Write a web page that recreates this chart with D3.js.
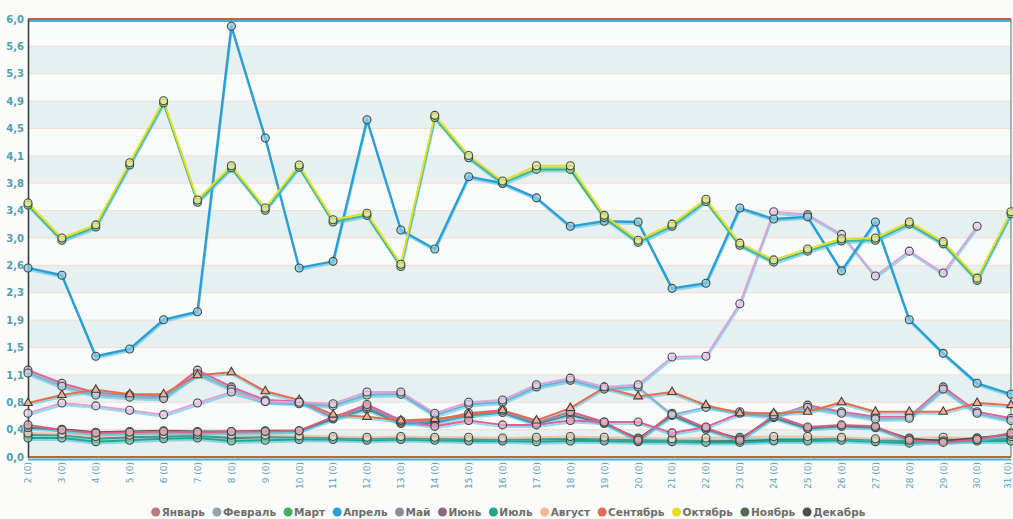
<!DOCTYPE html>
<html>
<head>
<meta charset="utf-8">
<script src="https://cdn.jsdelivr.net/npm/d3@7"></script>
<style>
  html, body { margin: 0; padding: 0; background: #fbfbfa; }
  svg { display: block; font-family: "DejaVu Sans", sans-serif; }
</style>
</head>
<body>
<script>
// Days of the month on the category axis
const dayLabels = ["2 (0)","3 (0)","4 (0)","5 (0)","6 (0)","7 (0)","8 (0)","9 (0)","10 (0)","11 (0)",
  "12 (0)","13 (0)","14 (0)","15 (0)","16 (0)","17 (0)","18 (0)","19 (0)","20 (0)","21 (0)",
  "22 (0)","23 (0)","24 (0)","25 (0)","26 (0)","27 (0)","28 (0)","29 (0)","30 (0)","31 (0)"];

// Value axis tick labels (0 … 6 in sixteen steps)
const yTickLabels = ["0,0","0,4","0,8","1,1","1,5","1,9","2,3","2,6","3,0","3,4","3,8","4,1","4,5","4,9","5,3","5,6","6,0"];

// Monthly series, one value per day
const january   = [0.44,0.37,0.33,0.34,0.35,0.34,0.35,0.35,0.36,0.55,0.69,0.48,0.50,0.60,0.64,0.47,0.62,0.48,0.23,0.60,0.40,0.23,0.57,0.41,0.44,0.42,0.23,0.20,0.24,0.33];
const february  = [1.15,0.97,0.85,0.82,0.80,1.14,0.93,0.76,0.73,0.70,0.85,0.86,0.57,0.72,0.75,0.96,1.05,0.93,0.96,0.58,0.68,0.62,0.58,0.68,0.60,0.52,0.53,0.93,0.60,0.50];
const march     = [3.45,2.97,3.15,4.00,4.85,3.49,3.96,3.38,3.97,3.22,3.31,2.61,4.65,4.10,3.75,3.94,3.94,3.28,2.94,3.16,3.50,2.90,2.67,2.82,2.96,2.97,3.19,2.92,2.42,3.33];
const april     = [2.59,2.49,1.38,1.48,1.88,1.99,5.90,4.37,2.59,2.68,4.62,3.11,2.85,3.84,3.75,3.55,3.16,3.23,3.22,2.31,2.38,3.41,3.26,3.29,2.55,3.22,1.88,1.42,1.01,0.86];
const may       = [0.60,0.74,0.70,0.64,0.58,0.74,0.89,0.76,0.75,0.73,0.89,0.89,0.60,0.75,0.78,0.99,1.08,0.96,0.99,1.37,1.38,2.10,3.36,3.32,3.05,2.48,2.82,2.52,3.16,null];
const june      = [1.19,1.01,0.88,0.85,0.83,1.19,0.96,0.78,0.76,0.54,0.72,0.50,0.42,0.50,0.44,0.44,0.50,0.48,0.48,0.33,0.41,0.60,0.55,0.71,0.62,0.55,0.55,0.96,0.62,0.53];
const july      = [0.26,0.26,0.21,0.23,0.25,0.26,0.22,0.23,0.24,0.24,0.23,0.24,0.23,0.22,0.22,0.21,0.22,0.22,0.21,0.21,0.20,0.20,0.22,0.22,0.23,0.21,0.19,0.22,0.22,0.22];
const august    = [0.33,0.32,0.28,0.30,0.31,0.31,0.30,0.30,0.29,0.28,0.27,0.28,0.27,0.27,0.26,0.27,0.28,0.27,0.26,0.25,0.26,0.27,0.28,0.28,0.27,0.25,0.26,0.27,0.26,0.28];
const september = [0.74,0.85,0.92,0.86,0.86,1.12,1.16,0.90,0.78,0.58,0.55,0.50,0.52,0.58,0.64,0.50,0.67,0.95,0.83,0.89,0.71,0.60,0.60,0.62,0.75,0.62,0.62,0.62,0.74,0.71];
const october   = [3.48,3.00,3.18,4.03,4.88,3.52,3.99,3.41,4.00,3.25,3.34,2.64,4.68,4.13,3.78,3.99,3.99,3.31,2.97,3.19,3.53,2.93,2.70,2.85,2.99,3.00,3.22,2.95,2.45,3.36];
const november  = [0.30,0.30,0.25,0.27,0.28,0.29,0.26,0.27,0.27,0.26,0.25,0.26,0.25,0.24,0.24,0.24,0.25,0.24,0.23,0.23,0.22,0.22,0.24,0.24,0.25,0.23,0.22,0.24,0.24,0.25];
const december  = [0.40,0.38,0.34,0.35,0.36,0.35,0.35,0.36,0.36,0.52,0.66,0.46,0.47,0.57,0.61,0.45,0.58,0.46,0.25,0.57,0.38,0.25,0.54,0.39,0.42,0.40,0.25,0.22,0.26,0.31];

const monthNames = ["Январь","Февраль","Март","Апрель","Май","Июнь","Июль","Август","Сентябрь","Октябрь","Ноябрь","Декабрь"];
const monthValues = [january,february,march,april,may,june,july,august,september,october,november,december];

// Styling per month
const monthColors = ["#d9607a","#8fb0c4","#3cb060","#2a9fd4","#dca2d6","#e0609a","#1fa88a","#f0c4a0","#ec6a48","#e6de26","#4e6a52","#4a5050"];
const legendColors = ["#b87a7a","#8ea4b4","#3cb060","#2a9fd4","#8a8a9a","#8a6a80","#1fa88a","#f4b898","#e06a58","#e6de26","#4e6a52","#4a5050"];
const markerShape = ["circle","circle","circle","circle","circle","circle","circle","circle","triangle","circle","circle","circle"];
const drawOrder = [10,6,7,11,0,5,1,8,4,3,2,9];

const W = 1013, H = 519;
const plotLeft = 28, plotRight = 1011, plotTop = 19, plotBottom = 457;

const svg = d3.select("body").append("svg").attr("width", W).attr("height", H);

const x = d3.scalePoint().domain(dayLabels).range([plotLeft, plotRight]);
const y = d3.scaleLinear().domain([0, 6]).range([plotBottom, plotTop]);
const tickValues = d3.range(yTickLabels.length).map(i => i * 6 / (yTickLabels.length - 1));

// Plot background with alternating bands
svg.append("rect").attr("x", plotLeft).attr("y", plotTop)
  .attr("width", plotRight - plotLeft).attr("height", plotBottom - plotTop)
  .attr("fill", "#f9fbfb");
const bands = svg.append("g");
for (let k = 0; k < tickValues.length - 1; k += 2) {
  bands.append("rect")
    .attr("x", plotLeft).attr("width", plotRight - plotLeft)
    .attr("y", y(tickValues[k + 1])).attr("height", y(tickValues[k]) - y(tickValues[k + 1]))
    .attr("fill", "#e7f0f0");
}
// faint horizontal grid
svg.append("g").selectAll("line").data(tickValues).join("line")
  .attr("x1", plotLeft).attr("x2", plotRight)
  .attr("y1", d => y(d)).attr("y2", d => y(d))
  .attr("stroke", "#f3ddd0").attr("stroke-width", 1);

// Frame
svg.append("line").attr("x1", plotLeft).attr("x2", plotRight).attr("y1", plotTop + 2).attr("y2", plotTop + 2)
  .attr("stroke", "#36b8dc").attr("stroke-width", 2);
svg.append("line").attr("x1", plotLeft).attr("x2", plotRight).attr("y1", plotTop).attr("y2", plotTop)
  .attr("stroke", "#b8683c").attr("stroke-width", 2);
svg.append("line").attr("x1", plotLeft).attr("x2", plotRight).attr("y1", plotBottom + 2.5).attr("y2", plotBottom + 2.5)
  .attr("stroke", "#36b8dc").attr("stroke-width", 2);
svg.append("line").attr("x1", plotLeft).attr("x2", plotRight).attr("y1", plotBottom).attr("y2", plotBottom)
  .attr("stroke", "#b8683c").attr("stroke-width", 2);
svg.append("line").attr("x1", plotRight).attr("x2", plotRight).attr("y1", plotTop).attr("y2", plotBottom)
  .attr("stroke", "#5a7060").attr("stroke-width", 1);

// Value axis
const yAxis = d3.axisLeft(y).tickValues(tickValues).tickSize(0).tickPadding(4)
  .tickFormat((d, i) => yTickLabels[i]);
const ya = svg.append("g").attr("transform", `translate(${plotLeft},0)`).call(yAxis);
ya.select(".domain").attr("stroke", "#34443c").attr("stroke-width", 1.6);
ya.selectAll("text").attr("font-size", 10).attr("font-weight", "bold")
  .attr("fill", "#4f9db4").attr("font-family", "DejaVu Sans, sans-serif");

// Category axis, labels rotated; the last one is nudged inside the canvas
const xAxis = d3.axisBottom(x).tickSize(0).tickPadding(0);
const xa = svg.append("g").attr("transform", `translate(0,${plotBottom + 5})`).call(xAxis);
xa.select(".domain").remove();
const nLabels = dayLabels.length;
xa.selectAll("text")
  .attr("font-size", 9).attr("fill", "#5aa2bc").attr("font-family", "DejaVu Sans, sans-serif")
  .attr("text-anchor", "end").attr("dy", "0.32em").attr("dx", 0).attr("y", 0)
  .attr("transform", (d, i) => i === nLabels - 1 ? "translate(-3,0) rotate(-90)" : "rotate(-90)");

// Series lines
const line = d3.line()
  .defined(v => v != null)
  .x((v, i) => x(dayLabels[i]))
  .y(v => y(v));

const plot = svg.append("g");
drawOrder.forEach(m => {
  const g = plot.append("g");
  // cyan print shadow beneath each line
  g.append("path").datum(monthValues[m]).attr("d", line)
    .attr("fill", "none").attr("stroke", "#3ec0e2").attr("stroke-width", 2)
    .attr("stroke-opacity", 0.55).attr("transform", "translate(0.5,2)");
  g.append("path").datum(monthValues[m]).attr("d", line)
    .attr("fill", "none").attr("stroke", monthColors[m])
    .attr("stroke-width", m === 3 ? 2.4 : 2).attr("stroke-linejoin", "round");
});

// Markers
drawOrder.forEach(m => {
  const pts = monthValues[m].map((v, i) => ({ v, i })).filter(p => p.v != null);
  const fill = d3.interpolateRgb(monthColors[m], "#ffffff")(0.45);
  const g = plot.append("g");
  if (markerShape[m] === "triangle") {
    g.selectAll("path").data(pts).join("path")
      .attr("d", d3.symbol(d3.symbolTriangle, 32)())
      .attr("transform", p => `translate(${x(dayLabels[p.i])},${y(p.v)})`)
      .attr("fill", fill).attr("stroke", "#3c403a").attr("stroke-width", 1.1);
  } else {
    g.selectAll("circle").data(pts).join("circle")
      .attr("cx", p => x(dayLabels[p.i])).attr("cy", p => y(p.v)).attr("r", 4)
      .attr("fill", fill).attr("fill-opacity", 0.75)
      .attr("stroke", "#3c4a46").attr("stroke-width", 1.1);
  }
});

// Legend along the bottom, centred
const legend = svg.append("g");
const items = legend.selectAll("g").data(monthNames).join("g");
items.append("circle").attr("r", 4.5).attr("cy", -4).attr("fill", (d, i) => legendColors[i]);
items.append("text").text(d => d).attr("x", 6)
  .attr("font-size", 10.5).attr("font-weight", "bold").attr("fill", "#6e6e6e")
  .attr("font-family", "DejaVu Sans, sans-serif");
const gap = 12;
let cursor = 0;
items.each(function () {
  const w = d3.select(this).select("text").node().getComputedTextLength();
  d3.select(this).attr("transform", `translate(${cursor},0)`);
  cursor += 6 + w + gap;
});
const total = cursor - gap;
legend.attr("transform", `translate(${(W - total) / 2 + 4},${H - 3})`);
</script>
</body>
</html>
